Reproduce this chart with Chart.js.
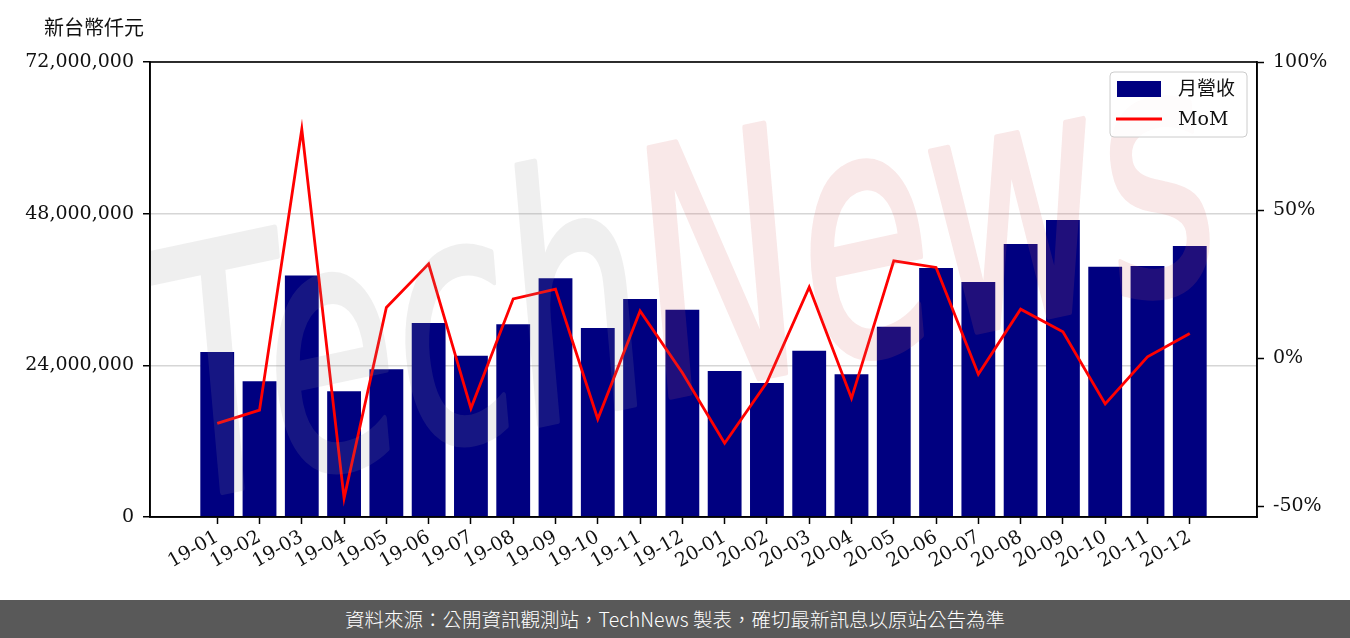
<!DOCTYPE html>
<html>
<head>
<meta charset="utf-8">
<script src="https://cdn.jsdelivr.net/npm/chart.js@4.4.1/dist/chart.umd.min.js"></script>
<style>
  html, body { margin: 0; padding: 0; background: #fff; }
  #wrap { position: relative; width: 1350px; height: 638px; overflow: hidden; }
  #unit { position: absolute; left: 44px; top: 17px; font: 20px/1 'Noto Sans CJK TC', sans-serif; color: #111; }
  #c { position: absolute; left: 0; top: 0; }
  #footer { position: absolute; left: 0; top: 600px; width: 1350px; height: 38px; background: #595959; color: #fff;
            font: 300 19.5px/38px 'Noto Sans CJK TC', sans-serif; text-align: center; }
</style>
</head>
<body>
<div id="wrap">
  <canvas id="c" width="1350" height="600"></canvas>
  <div id="unit">新台幣仟元</div>
  <div id="footer">資料來源：公開資訊觀測站，TechNews 製表，確切最新訊息以原站公告為準</div>
</div>
<script>
const categories = ['19-01','19-02','19-03','19-04','19-05','19-06','19-07','19-08','19-09','19-10','19-11','19-12',
                    '20-01','20-02','20-03','20-04','20-05','20-06','20-07','20-08','20-09','20-10','20-11','20-12'];
const revenue = [26.1e6, 21.5e6, 38.2e6, 19.9e6, 23.4e6, 30.7e6, 25.5e6, 30.5e6, 37.8e6, 29.9e6, 34.5e6, 32.8e6,
                 23.1e6, 21.2e6, 26.3e6, 22.6e6, 30.1e6, 39.4e6, 37.2e6, 43.2e6, 47.0e6, 39.6e6, 39.7e6, 42.9e6];
const mom = [-22.1, -17.6, 77.3, -47.4, 17.1, 31.8, -17.0, 20.0, 23.3, -20.6, 15.9, -5.0,
             -28.8, -8.2, 23.9, -13.6, 32.8, 30.6, -5.5, 16.5, 8.9, -15.5, 0.4, 8.3];
const leftTicks = [0, 24000000, 48000000, 72000000];
const rightTicks = [-50, 0, 50, 100];
const seriesNames = ['月營收', 'MoM'];

const FONT = "'DejaVu Serif', 'Noto Sans CJK TC', serif";
const tickFont = { family: FONT, size: 19 };

const framePlugin = {
  id: 'frame',
  afterDatasetsDraw(chart) {
    const { ctx, chartArea: a } = chart;
    // watermark (drawn opaque off-screen, then composited faintly)
    const off = document.createElement('canvas');
    off.width = chart.width; off.height = chart.height;
    const o = off.getContext('2d');
    o.translate(185, 500);
    o.rotate(-12 * Math.PI / 180);
    o.font = "italic 340px 'DejaVu Sans', sans-serif";
    const wTech = o.measureText('Tech').width;
    const wAll = o.measureText('TechNews').width;
    o.scale(1070 / wAll, 1);
    o.lineJoin = 'round';
    o.lineWidth = 6;
    o.fillStyle = o.strokeStyle = 'rgb(150,150,150)';
    o.fillText('Tech', 0, 0); o.strokeText('Tech', 0, 0);
    o.fillStyle = o.strokeStyle = 'rgb(215,100,100)';
    o.fillText('News', wTech, 0); o.strokeText('News', wTech, 0);
    ctx.save();
    ctx.beginPath();
    ctx.rect(a.left, a.top, a.right - a.left, a.bottom - a.top);
    ctx.clip();
    ctx.globalAlpha = 0.15;
    ctx.drawImage(off, 0, 0);
    ctx.restore();

    // frame (spines)
    ctx.save();
    ctx.strokeStyle = '#000';
    ctx.lineWidth = 1.6;
    ctx.strokeRect(a.left, a.top, a.right - a.left, a.bottom - a.top);
    ctx.restore();

    // legend
    const ds = chart.data.datasets;
    const lx = a.right - 147, ly = a.top + 10, lw = 137, lh = 65;
    ctx.save();
    ctx.beginPath();
    ctx.roundRect(lx, ly, lw, lh, 4);
    ctx.fillStyle = 'rgba(255,255,255,0.85)';
    ctx.fill();
    ctx.strokeStyle = '#cccccc';
    ctx.lineWidth = 1;
    ctx.stroke();
    ctx.fillStyle = ds[0].backgroundColor;
    ctx.fillRect(lx + 7, ly + 9, 44, 16);
    ctx.strokeStyle = ds[1].borderColor;
    ctx.lineWidth = 2.8;
    ctx.beginPath();
    ctx.moveTo(lx + 6, ly + 47);
    ctx.lineTo(lx + 52, ly + 47);
    ctx.stroke();
    ctx.fillStyle = '#111';
    ctx.font = "19px " + FONT;
    ctx.textBaseline = 'middle';
    ctx.textAlign = 'left';
    ctx.fillText(ds[0].label, lx + 68, ly + 18);
    ctx.fillText(ds[1].label, lx + 68, ly + 48);
    ctx.restore();
  }
};

new Chart(document.getElementById('c'), {
  type: 'bar',
  data: {
    datasets: [
      {
        type: 'bar',
        label: seriesNames[0],
        data: revenue.map((v, i) => ({ x: i, y: v })),
        backgroundColor: '#000080',
        borderWidth: 0,
        barPercentage: 0.8,
        categoryPercentage: 1.0,
        yAxisID: 'y',
        xAxisID: 'x',
        order: 1
      },
      {
        type: 'line',
        label: seriesNames[1],
        data: mom.map((v, i) => ({ x: i, y: v })),
        borderColor: '#ff0000',
        backgroundColor: '#ff0000',
        borderWidth: 2.8,
        pointRadius: 0,
        tension: 0,
        fill: false,
        yAxisID: 'y1',
        xAxisID: 'x',
        order: 0
      }
    ]
  },
  options: {
    responsive: false,
    animation: false,
    devicePixelRatio: 1,
    layout: { padding: { top: 62, left: 0, right: 0, bottom: 0 } },
    plugins: { legend: { display: false }, tooltip: { enabled: false }, title: { display: false } },
    scales: {
      x: {
        type: 'linear',
        min: -1.59,
        max: 24.59,
        offset: false,
        afterBuildTicks: ax => { ax.ticks = categories.map((_, i) => ({ value: i })); },
        afterFit: ax => { ax.height = 83; },
        ticks: {
          callback: v => categories[v],
          autoSkip: false,
          maxRotation: 30,
          minRotation: 30,
          font: tickFont,
          color: '#111',
          padding: 2
        },
        grid: { drawOnChartArea: false, offset: false, tickColor: '#000', tickLength: 7, tickWidth: 1.5 },
        border: { color: '#000', width: 1.6 }
      },
      y: {
        position: 'left',
        min: 0,
        max: 72000000,
        afterBuildTicks: ax => { ax.ticks = leftTicks.map(v => ({ value: v })); },
        afterFit: ax => { ax.width = 150; },
        ticks: {
          callback: v => Number(v).toLocaleString('en-US'),
          font: tickFont,
          color: '#111',
          padding: 9
        },
        grid: { color: '#d6d6d6', lineWidth: 1.5, tickColor: '#000', tickLength: 7, tickWidth: 1.5 },
        border: { color: '#000', width: 1.6 }
      },
      y1: {
        position: 'right',
        min: -53.7,
        max: 100,
        afterBuildTicks: ax => { ax.ticks = rightTicks.map(v => ({ value: v })); },
        afterFit: ax => { ax.width = 93; },
        ticks: {
          callback: v => v + '%',
          font: tickFont,
          color: '#111',
          padding: 9
        },
        grid: { drawOnChartArea: false, tickColor: '#000', tickLength: 7, tickWidth: 1.5 },
        border: { color: '#000', width: 1.6 }
      }
    }
  },
  plugins: [framePlugin]
});
</script>
</body>
</html>
